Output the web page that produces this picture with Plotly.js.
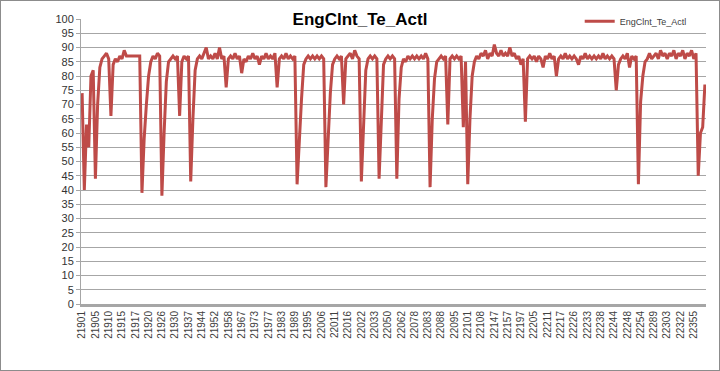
<!DOCTYPE html>
<html><head><meta charset="utf-8">
<script src="https://cdn.plot.ly/plotly-3.0.1.min.js"></script>
<style>html,body{margin:0;padding:0;background:#fff;}#chart{width:720px;height:371px;box-sizing:border-box;border:1px solid #8c8c8c;}</style>
</head><body><div id="chart"></div>
<script>
const seriesName = "EngClnt_Te_Actl";
const tickLabels = ["21901","21905","21910","21915","21917","21920","21926","21930","21937","21944","21952","21958","21967","21973","21977","21983","21989","21995","22006","22011","22016","22022","22033","22050","22062","22078","22083","22088","22095","22101","22108","22147","22157","22197","22205","22211","22217","22226","22233","22238","22244","22248","22254","22289","22303","22322","22355"];
const pointsPerLabel = 6;
const values = [
74,40,63,55,80,82,44,70,83,86,
87,88,86,66,84,86,85,87,86,89,
87,87,87,87,87,87,87,39,58,70,
80,85,87,86,88,87,38,60,78,85,
86,87,86,87,66,85,87,86,87,43,
65,82,86,87,86,88,90,86,87,86,
88,86,90,86,87,76,86,87,86,88,
86,87,81,86,85,87,86,88,86,87,
84,87,86,88,86,87,86,88,76,86,
87,86,88,86,87,86,87,42,60,72,
84,86,87,86,87,86,87,86,87,86,
41,60,74,84,86,87,86,87,70,86,
87,88,86,89,87,86,43,65,82,86,
87,86,87,86,44,64,84,86,87,86,
87,86,44,72,83,86,85,87,86,87,
86,87,86,87,86,88,86,41,65,79,
85,86,87,86,87,63,86,87,86,87,
86,87,62,85,42,65,80,85,87,86,
88,87,89,86,88,87,91,88,87,89,
87,88,87,90,87,88,86,87,84,86,
64,86,87,86,87,85,87,86,83,87,
86,88,86,87,80,86,87,86,88,86,
87,86,87,86,84,87,86,88,86,87,
86,87,86,87,86,88,86,87,86,87,
86,75,84,86,87,86,88,83,87,86,
87,42,71,80,85,86,88,86,87,88,
86,89,87,88,86,88,87,89,86,88,
87,89,86,88,87,89,86,88,45,60,
62,77
];
const xIdx = values.map((_, i) => i);
const tickVals = tickLabels.map((_, i) => i * pointsPerLabel);

const trace = {
  x: xIdx, y: values, type: "scatter", mode: "lines", name: seriesName,
  line: {color: "#be4b48", width: 3}
};
const layout = {
  width: 718, height: 369,
  margin: {l: 80, r: 13, t: 18, b: 66, autoexpand: false},
  paper_bgcolor: "#fff", plot_bgcolor: "#fff",
  font: {family: "Liberation Sans, Arial, sans-serif", color: "#404040"},
  title: {text: "<b>EngClnt_Te_Actl</b>", x: 0.5, xanchor: "center", y: 0.95, yanchor: "middle",
          font: {family: "Liberation Sans, Arial, sans-serif", size: 17, color: "#000"}},
  showlegend: true,
  legend: {xref: "container", yref: "container", x: 0.806, y: 0.945, xanchor: "left", yanchor: "middle",
           font: {size: 9, color: "#404040"}, bgcolor: "rgba(0,0,0,0)", itemwidth: 30, tracegroupgap: 0},
  xaxis: {
    range: [-0.5, values.length - 0.5], tickmode: "array", tickvals: tickVals, ticktext: tickLabels,
    tickangle: -90, tickfont: {size: 10, color: "#404040"}, showgrid: false, zeroline: false,
    showline: true, linecolor: "#a6a6a6", linewidth: 3, ticks: "", fixedrange: true, automargin: false
  },
  yaxis: {
    range: [0, 100], tickmode: "linear", tick0: 0, dtick: 5, tickfont: {size: 11, color: "#333333"},
    showgrid: true, gridcolor: "#a6a6a6", gridwidth: 1, zeroline: false, automargin: false,
    showline: true, linecolor: "#a6a6a6", linewidth: 1, ticks: "outside", ticklen: 4, tickcolor: "#a6a6a6"
  }
};
Plotly.newPlot("chart", [trace], layout, {displayModeBar: false, staticPlot: true});
</script></body></html>
